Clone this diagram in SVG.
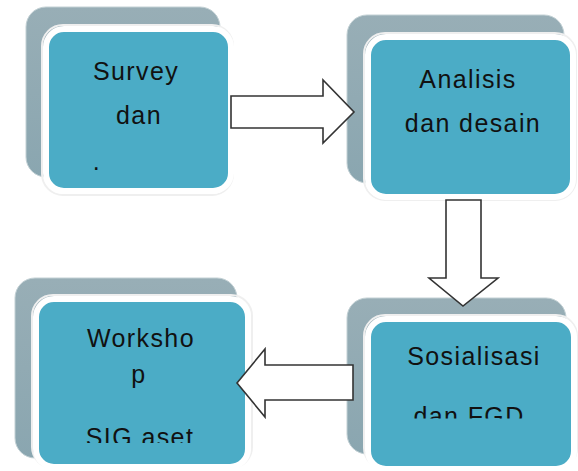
<svg xmlns="http://www.w3.org/2000/svg" width="578" height="471" viewBox="0 0 578 471">
<defs>
<clipPath id="clipSig"><rect x="0" y="0" width="578" height="443"/></clipPath>
<clipPath id="clipFgd"><rect x="0" y="0" width="578" height="418.5"/></clipPath>
<linearGradient id="backGrad" x1="0" y1="0" x2="0" y2="1">
<stop offset="0" stop-color="#98AEB6"/>
<stop offset="1" stop-color="#8AA6B0"/>
</linearGradient>
</defs>
<style>
.back{fill:url(#backGrad);stroke:#C2D0D4;stroke-width:1}
.halo{fill:none;stroke:#EFEFEF;stroke-width:2}
.front{fill:#4BACC6;stroke:#FFFFFF;stroke-width:6}
.lbl{font-family:"Liberation Sans",Arial,sans-serif;font-size:25px;fill:#111;letter-spacing:1.4px;text-anchor:middle}
.arrow{fill:#FFFFFF;stroke:#333;stroke-width:1.6;stroke-linejoin:miter}
</style>
<rect width="578" height="471" fill="#FFFFFF"/>
<g id="node-survey">
<rect class="back" x="26" y="7" width="194" height="170" rx="20"/>
<rect class="halo" x="42" y="25" width="191" height="170" rx="21"/>
<rect class="front" x="46" y="29" width="185" height="162" rx="18"/>
<text class="lbl" x="136" y="80">Survey</text>
<text class="lbl" x="139" y="124">dan</text>
<text class="lbl" x="97" y="170">.</text>
</g>
<g id="node-analisis">
<rect class="back" x="347" y="15" width="217" height="168" rx="20"/>
<rect class="halo" x="364" y="33" width="212" height="167" rx="21"/>
<rect class="front" x="368" y="37" width="205" height="160" rx="18"/>
<text class="lbl" x="468" y="88">Analisis</text>
<text class="lbl" x="473" y="132">dan desain</text>
</g>
<g id="node-workshop">
<rect class="back" x="15" y="278" width="222" height="180" rx="20"/>
<rect class="halo" x="32" y="295" width="220" height="173" rx="21"/>
<rect class="front" x="36" y="299" width="212" height="168" rx="18"/>
<text class="lbl" x="141" y="347">Worksho</text>
<text class="lbl" x="139" y="383">p</text>
<g clip-path="url(#clipSig)"><text class="lbl" x="140" y="446">SIG aset</text></g>
</g>
<g id="node-sosialisasi">
<rect class="back" x="347" y="298" width="219" height="156" rx="20"/>
<rect class="halo" x="364" y="315" width="213" height="154" rx="21"/>
<rect class="front" x="368" y="319" width="206" height="150" rx="18"/>
<text class="lbl" x="474" y="365">Sosialisasi</text>
<g clip-path="url(#clipFgd)"><text class="lbl" x="469" y="425">dan FGD</text></g>
</g>
<g id="connectors">
<polygon class="arrow" points="231,96 323,96 323,80 354,112 323,143 323,128 231,128"/>
<polygon class="arrow" points="446,200 481,200 481,278 498,278 463,306 429,278 446,278"/>
<polygon class="arrow" points="353,365 265,365 265,349 237,383 265,417 265,400 353,400"/>
</g>
</svg>
